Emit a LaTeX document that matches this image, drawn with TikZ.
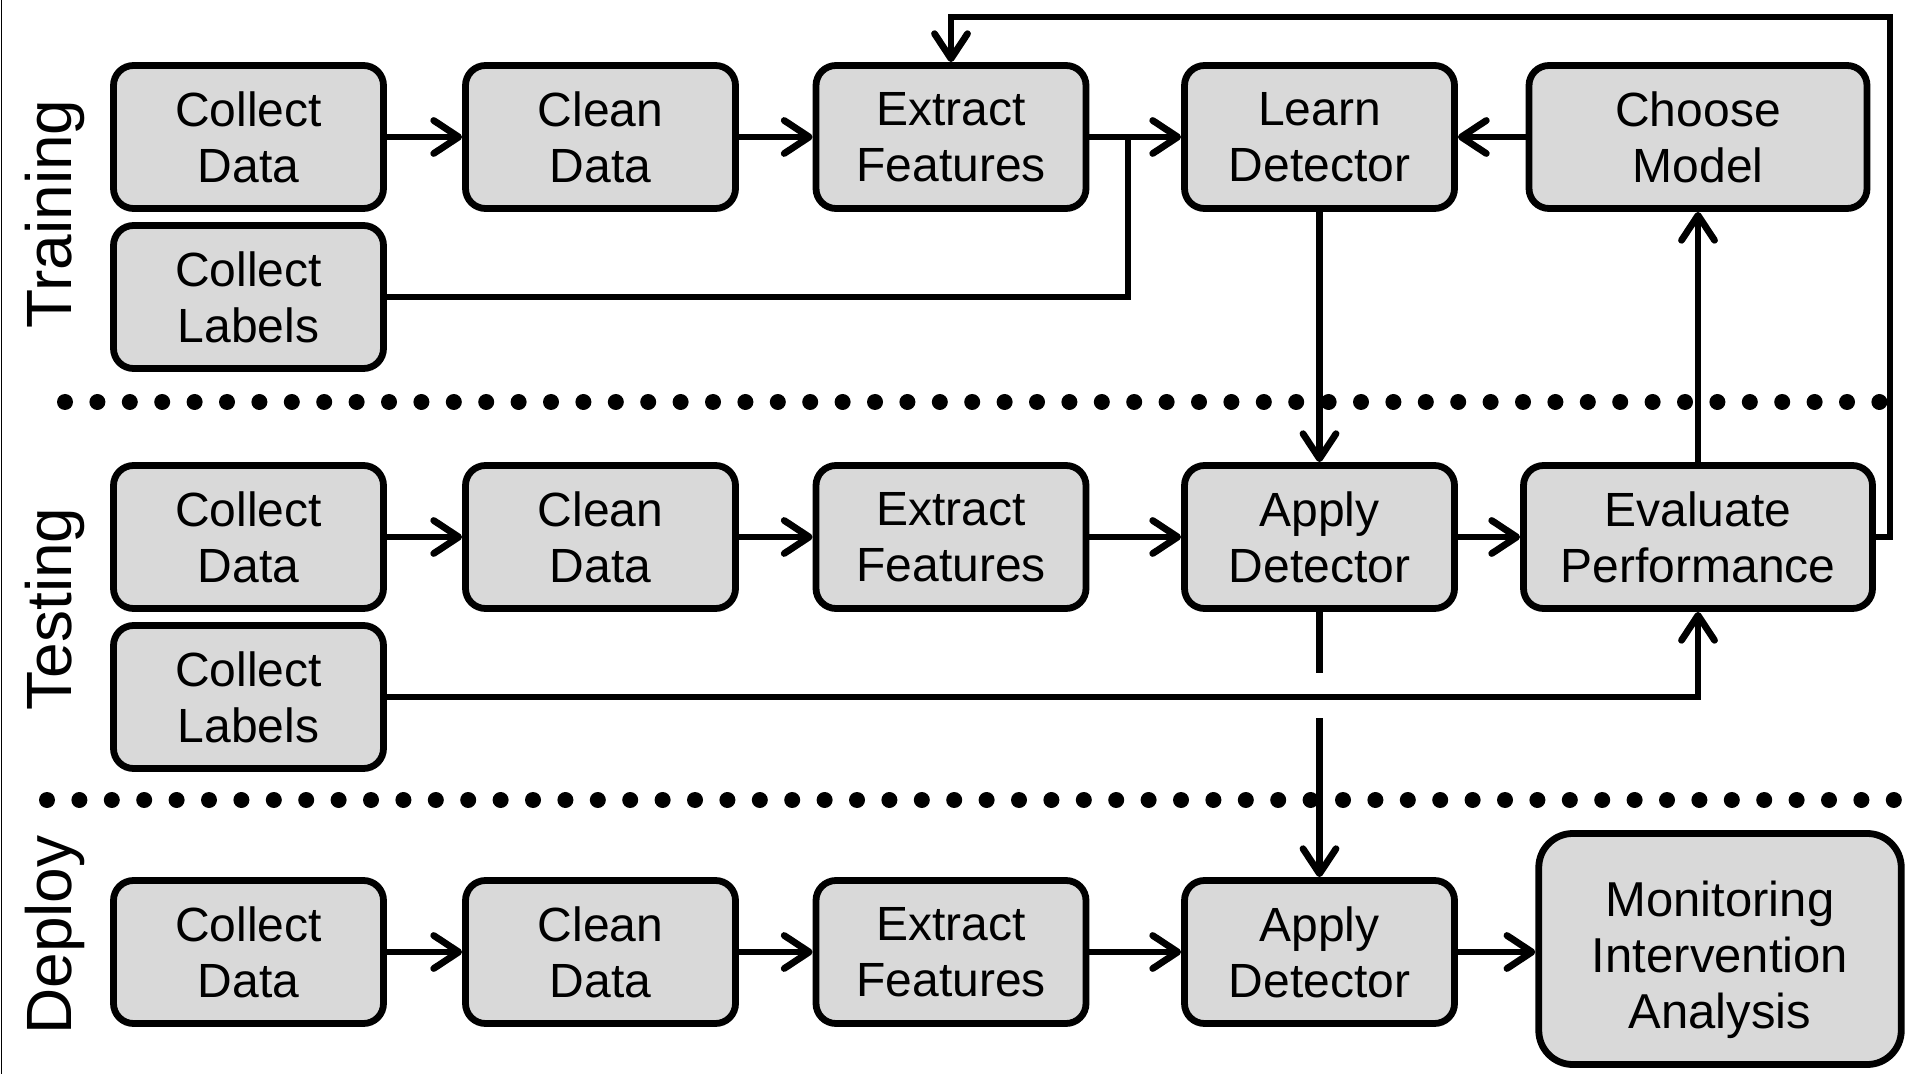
\documentclass[tikz,border=0pt]{standalone}
\usepackage{fontspec}
\setmainfont{Liberation Sans}
\usetikzlibrary{arrows.meta}
\definecolor{boxfill}{RGB}{217,217,217}
\tikzset{
  stage/.style={draw=black, fill=boxfill, line width=3.4pt, rounded corners=10pt,
    minimum width=135pt, minimum height=71.5pt, inner sep=0pt, align=center,
    font=\fontsize{24}{28}\selectfont},
  conn/.style={line width=3.4pt},
  arr/.style={conn, -{Straight Barb[length=12.5pt,width=16.5pt,round]}},
  dotline/.style={line width=8pt, line cap=round, dash pattern=on 0pt off 16.2pt},
  phase/.style={rotate=90, anchor=base, inner sep=0pt, font=\fontsize{32}{32}\selectfont}
}
\begin{document}
\begin{tikzpicture}[x=0.5pt,y=-0.5pt]
\useasboundingbox (0,0) rectangle (1905,1074);
\draw[line width=0.75pt] (1.5,0) -- (1.5,1074);
% separators
\draw[dotline] (65,402) -- (1910,402);
\draw[dotline] (47,800) -- (1910,800);
% phase labels
\node[phase] (pTrain) at (71,214) {Training};
\node[phase] (pTest) at (71,609) {Testing};
\node[phase] (pDeploy) at (71,935) {Deploy};
% training
\node[stage] (cd1) at (248.5,137) {Collect\\Data};
\node[stage] (cl1) at (600.5,137) {Clean\\Data};
\node[stage] (ef1) at (951,137) {Extract\\Features};
\node[stage] (ld) at (1319.5,137) {Learn\\Detector};
\node[stage, minimum width=169pt] (cm) at (1698,137) {Choose\\Model};
\node[stage] (lab1) at (248.5,297) {Collect\\Labels};
% testing
\node[stage] (cd2) at (248.5,537) {Collect\\Data};
\node[stage] (cl2) at (600.5,537) {Clean\\Data};
\node[stage] (ef2) at (951,537) {Extract\\Features};
\node[stage] (ad2) at (1319.5,537) {Apply\\Detector};
\node[stage, minimum width=174.5pt] (ev) at (1698,537) {Evaluate\\Performance};
\node[stage] (lab2) at (248.5,697) {Collect\\Labels};
% deploy
\node[stage] (cd3) at (248.5,952) {Collect\\Data};
\node[stage] (cl3) at (600.5,952) {Clean\\Data};
\node[stage] (ef3) at (951,952) {Extract\\Features};
\node[stage] (ad3) at (1319.5,952) {Apply\\Detector};
\node[stage, minimum width=181.25pt, minimum height=115.5pt, rounded corners=17pt,
  font=\fontsize{24.5}{28}\selectfont] (mon) at (1720,949)
  {\raisebox{-6pt}[\height][\depth]{\begin{tabular}{@{}c@{}}Monitoring\\Intervention\\Analysis\end{tabular}}};
% coordinates
\coordinate (j1) at (1128,137);
\coordinate (fb) at (1890,17);
\coordinate (g1) at (1319.5,673);
\coordinate (g2) at (1319.5,718);
% training connectors
\draw[arr] (cd1) -- (cl1);
\draw[arr] (cl1) -- (ef1);
\draw[arr] (ef1) -- (ld);
\draw[arr] (cm) -- (ld);
\draw[conn] (lab1.east) -| (j1);
\draw[arr] (ld) -- (ad2);
% testing connectors
\draw[arr] (cd2) -- (cl2);
\draw[arr] (cl2) -- (ef2);
\draw[arr] (ef2) -- (ad2);
\draw[arr] (ad2) -- (ev);
\draw[arr] (ev) -- (cm);
\draw[arr] (lab2.east) -| (ev.south);
\draw[arr] (ev.east) -| (fb) -| (ef1.north);
\draw[conn] (ad2.south) -- (g1);
\draw[arr] (g2) -- (ad3.north);
% deploy connectors
\draw[arr] (cd3) -- (cl3);
\draw[arr] (cl3) -- (ef3);
\draw[arr] (ef3) -- (ad3);
\draw[arr] (ad3.east) -- (ad3.east -| mon.west);
\end{tikzpicture}
\end{document}
